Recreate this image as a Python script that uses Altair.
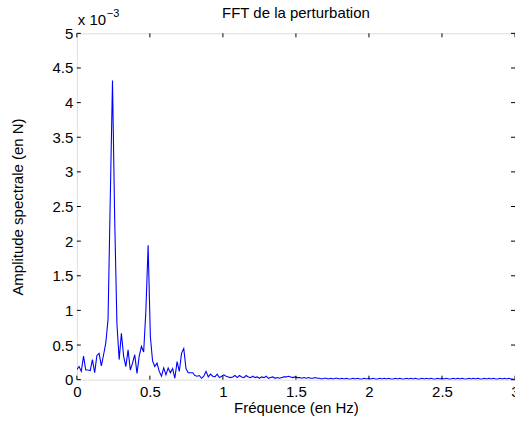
import altair as alt
import pandas as pd

# Frequency resolution of the FFT (Hz per bin), read from the harmonic positions
df_hz = 0.01525

# Spectral amplitude (units of 1e-3 N), one value per bin from 0 Hz to ~3 Hz
amplitude = [
    0.15, 0.19, 0.12, 0.34, 0.14, 0.14, 0.13, 0.29, 0.10, 0.35,
    0.38, 0.20, 0.36, 0.53, 0.87, 2.60, 4.32, 2.30, 0.80, 0.29,
    0.67, 0.34, 0.19, 0.43, 0.14, 0.24, 0.36, 0.09, 0.34, 0.48,
    0.40, 1.00, 1.94, 0.62, 0.27, 0.19, 0.24, 0.12, 0.05, 0.17,
    0.07, 0.17, 0.10, 0.16, 0.02, 0.26, 0.12, 0.38, 0.45, 0.16,
    0.10, 0.10, 0.10, 0.06, 0.05, 0.06, 0.02, 0.05, 0.12, 0.04,
    0.08, 0.05, 0.04, 0.08, 0.03, 0.05, 0.07, 0.05, 0.04, 0.03,
    0.04, 0.06, 0.03, 0.06, 0.04, 0.03, 0.06, 0.04, 0.03, 0.05,
    0.03, 0.04, 0.02, 0.04, 0.03, 0.05, 0.02, 0.03, 0.04, 0.02,
    0.03, 0.02, 0.03, 0.04, 0.04, 0.05, 0.04, 0.03, 0.04, 0.03,
    0.03, 0.02, 0.03, 0.02, 0.03, 0.02, 0.02, 0.03, 0.02, 0.02,
    0.01, 0.02, 0.02, 0.01, 0.02, 0.01, 0.02, 0.02, 0.01, 0.02,
    0.01, 0.02, 0.01, 0.01, 0.02, 0.01, 0.02, 0.01, 0.01, 0.02,
    0.01, 0.02, 0.01, 0.02, 0.01, 0.01, 0.02, 0.01, 0.02, 0.01,
    0.02, 0.01, 0.01, 0.02, 0.01, 0.02, 0.01, 0.01, 0.02, 0.01,
    0.02, 0.01, 0.02, 0.01, 0.01, 0.02, 0.01, 0.02, 0.01, 0.02,
    0.01, 0.01, 0.02, 0.01, 0.02, 0.01, 0.02, 0.01, 0.01, 0.02,
    0.01, 0.02, 0.01, 0.02, 0.01, 0.01, 0.02, 0.01, 0.02, 0.01,
    0.02, 0.01, 0.01, 0.02, 0.01, 0.02, 0.01, 0.02, 0.01, 0.01,
    0.02, 0.01, 0.02, 0.01, 0.02, 0.01, 0.01,
]
freq = [round(i * df_hz, 5) for i in range(len(amplitude))]

x_ticks = [0, 0.5, 1, 1.5, 2, 2.5, 3]
y_ticks = [0, 0.5, 1, 1.5, 2, 2.5, 3, 3.5, 4, 4.5, 5]

W, H = 439, 347
FONT = "Liberation Sans"
FS = 15
TICK = 4

data = pd.DataFrame({"freq": freq, "amp": amplitude})
xt = pd.DataFrame({"freq": x_ticks})
yt = pd.DataFrame({"amp": y_ticks})

xs = alt.Scale(domain=[0, 3], nice=False, zero=False)
ys = alt.Scale(domain=[0, 5], nice=False, zero=False)

x_axis = alt.Axis(values=x_ticks, format="~g", title="Fréquence (en Hz)",
                  domain=False, ticks=False, grid=False,
                  labelPadding=5, labelFontSize=FS, labelFont=FONT,
                  labelColor="black", labelFlush=False, labelOverlap=False,
                  titleFontSize=FS, titleFont=FONT, titleFontWeight="normal",
                  titleColor="black", titleX=W / 2, titleY=33,
                  titleAlign="center", titleBaseline="alphabetic")
y_axis = alt.Axis(values=y_ticks, format="~g", title="Amplitude spectrale (en N)",
                  domain=False, ticks=False, grid=False,
                  labelPadding=4, labelFontSize=FS, labelFont=FONT,
                  labelColor="black", labelFlush=False, labelOverlap=False,
                  titleFontSize=FS, titleFont=FONT, titleFontWeight="normal",
                  titleColor="black", titleX=-59, titleY=H / 2,
                  titleAlign="center", titleBaseline="middle")

line = alt.Chart(data).mark_line(color="#0000ff", strokeWidth=1.1, clip=True).encode(
    x=alt.X("freq:Q", scale=xs, axis=x_axis),
    y=alt.Y("amp:Q", scale=ys, axis=y_axis),
)

tick_bottom = alt.Chart(xt).mark_rule(color="black", strokeWidth=1).encode(
    x=alt.X("freq:Q", scale=xs, axis=x_axis), y=alt.value(H), y2=alt.value(H - TICK))
tick_top = alt.Chart(xt).mark_rule(color="black", strokeWidth=1).encode(
    x=alt.X("freq:Q", scale=xs, axis=x_axis), y=alt.value(0), y2=alt.value(TICK))
tick_left = alt.Chart(yt).mark_rule(color="black", strokeWidth=1).encode(
    y=alt.Y("amp:Q", scale=ys, axis=y_axis), x=alt.value(0), x2=alt.value(TICK))
tick_right = alt.Chart(yt).mark_rule(color="black", strokeWidth=1).encode(
    y=alt.Y("amp:Q", scale=ys, axis=y_axis), x=alt.value(W), x2=alt.value(W - TICK))

exp_base = alt.Chart(pd.DataFrame({"s": ["x 10"]})).mark_text(
    align="left", baseline="alphabetic", fontSize=FS, font=FONT, color="black"
).encode(text="s:N", x=alt.value(1), y=alt.value(-8))
exp_sup = alt.Chart(pd.DataFrame({"s": ["\u22123"]})).mark_text(
    align="left", baseline="alphabetic", fontSize=11, font=FONT, color="black"
).encode(text="s:N", x=alt.value(30), y=alt.value(-16))

title_txt = alt.Chart(pd.DataFrame({"s": ["FFT de la perturbation"]})).mark_text(
    align="center", baseline="alphabetic", fontSize=FS, font=FONT, color="black"
).encode(text="s:N", x=alt.value(W / 2), y=alt.value(-15))

chart = alt.layer(line, tick_bottom, tick_top, tick_left, tick_right,
                  exp_base, exp_sup, title_txt).properties(
    width=W, height=H,
    autosize=alt.AutoSizeParams(type="none"),
    padding={"left": 77, "top": 33, "right": 0, "bottom": 41},
).configure_view(stroke="black", strokeWidth=1).configure(background="white")

chart.save("out.html", embed_options={"renderer": "svg", "actions": False})
